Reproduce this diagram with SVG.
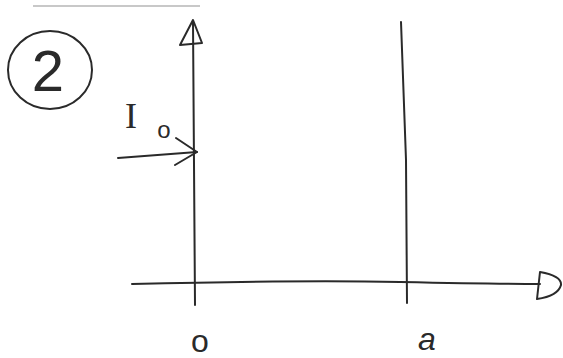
<svg xmlns="http://www.w3.org/2000/svg" width="563" height="358" viewBox="0 0 563 358">
<style>
.ln{fill:none;stroke:#2a2a2a;stroke-width:2;stroke-linecap:round;stroke-linejoin:round}
.tx{font-family:"Liberation Sans",sans-serif;fill:#2a2a2a}
.sf{font-family:"Liberation Serif",serif}
</style>
<rect width="563" height="358" fill="#ffffff"/>
<line x1="33" y1="6" x2="200" y2="6" stroke="#c8c8c8" stroke-width="2"/>
<g id="label-2">
<ellipse cx="50" cy="70" rx="42" ry="39" class="ln"/>
<text x="48" y="91" text-anchor="middle" class="tx" font-size="58">2</text>
</g>
<g id="connectors">
<path class="ln" d="M193 22 L195 305"/>
<path class="ln" d="M193 20 L180 45 L202 43 Z"/>
<path class="ln" d="M132 284 Q300 280 400 282 T540 284"/>
<path class="ln" d="M540 272 Q562 276 561 285 Q558 296 537 299 Z"/>
<path class="ln" d="M401 22 L406 160 L407 303"/>
<path class="ln" d="M118 158 L197 152"/>
<path class="ln" d="M176 138 L197 152 L175 165"/>
</g>
<g id="label-I0">
<text x="131" y="128" text-anchor="middle" class="tx sf" font-size="36">I</text>
<text x="164" y="138" text-anchor="middle" class="tx" font-size="24">o</text>
</g>
<g id="label-0"><text x="200" y="352" text-anchor="middle" class="tx" font-size="32">o</text></g>
<g id="label-a"><text x="427" y="350" text-anchor="middle" class="tx" font-size="32" font-style="italic">a</text></g>
</svg>
